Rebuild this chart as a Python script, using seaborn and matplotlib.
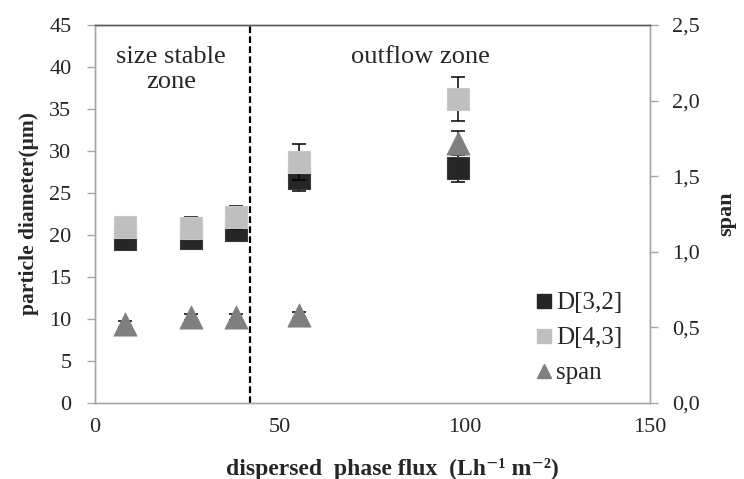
import matplotlib
matplotlib.use("Agg")
import matplotlib.pyplot as plt
from matplotlib.lines import Line2D
from matplotlib.ticker import FuncFormatter, MultipleLocator
import seaborn as sns
import pandas as pd

# dispersed phase flux (Lh-1 m-2)
flux = [8, 26, 38, 55, 98]
d32 = [19.5, 19.6, 20.6, 26.8, 28.0]
d32_err = [0.8, 0.5, 0.7, 1.6, 1.7]
d43 = [21.0, 20.8, 22.1, 28.7, 36.2]
d43_err = [1.2, 1.3, 1.4, 2.1, 2.6]
span = [0.52, 0.57, 0.57, 0.58, 1.72]
span_err = [0.02, 0.02, 0.02, 0.02, 0.08]
zone_limit = 42

df = pd.DataFrame({"flux": flux, "d32": d32, "d43": d43, "span": span})

sns.set_style("white")
plt.rcParams["font.family"] = ["Liberation Serif", "DejaVu Serif"]

c32 = "#262626"
c43 = "#bfbfbf"
cspan = "#7f7f7f"

fig = plt.figure(figsize=(7.44, 4.79), dpi=100)
ax = fig.add_axes([0.1277, 0.1587, 0.7460, 0.7891])
ax2 = ax.twinx()

# error bars first, markers on top
ax.errorbar(flux, d32, yerr=d32_err, fmt="none", ecolor="black",
            elinewidth=1.1, capsize=5, capthick=1.1, zorder=2)
sns.scatterplot(data=df, x="flux", y="d32", ax=ax, marker="s", s=250,
                color=c32, edgecolor="#3a3a3a", linewidth=0.8, zorder=3)
ax.errorbar(flux, d43, yerr=d43_err, fmt="none", ecolor="black",
            elinewidth=1.1, capsize=5, capthick=1.1, zorder=4)
sns.scatterplot(data=df, x="flux", y="d43", ax=ax, marker="s", s=250,
                color=c43, edgecolor="#c8c8c8", linewidth=0.8, zorder=5)

ax2.errorbar(flux, span, yerr=span_err, fmt="none", ecolor="black",
             elinewidth=1.1, capsize=5, capthick=1.1, zorder=2)
sns.scatterplot(data=df, x="flux", y="span", ax=ax2, marker="^", s=280,
                color=cspan, edgecolor=cspan, linewidth=0.5, zorder=3)

ax.axvline(zone_limit, color="black", linestyle=(0, (3, 1.5)), linewidth=1.6, zorder=1)

ax.set_xlim(0, 150)
ax.set_ylim(0, 45)
ax2.set_ylim(0, 2.5)
ax.xaxis.set_major_locator(MultipleLocator(50))
ax.yaxis.set_major_locator(MultipleLocator(5))
ax2.yaxis.set_major_locator(MultipleLocator(0.5))
ax2.yaxis.set_major_formatter(FuncFormatter(lambda v, p: f"{v:.1f}".replace(".", ",")))

for a in (ax, ax2):
    for side in ("left", "right", "bottom"):
        a.spines[side].set_color("#a6a6a6")
        a.spines[side].set_linewidth(1.0)
    a.spines["top"].set_color("#595959")
    a.spines["top"].set_linewidth(1.0)

ax.tick_params(axis="y", which="major", labelsize=16, length=6, width=1,
               color="#a6a6a6", direction="out", pad=11)
ax.tick_params(axis="x", which="major", labelsize=16, length=8, width=1,
               color="#a6a6a6", direction="inout", pad=7)
ax2.tick_params(axis="y", labelsize=16, length=6, width=1, color="#a6a6a6",
                direction="out", pad=10)

ax.set_xlabel("dispersed  phase flux  (Lh\u207b\u00b9 m\u207b\u00b2)",
              fontsize=17, fontweight="bold")
ax.xaxis.set_label_coords(0.535, -0.145)
ax.set_ylabel("particle diameter(\u03bcm)", fontsize=15.5, fontweight="bold", labelpad=7)
ax2.set_ylabel("span", fontsize=16, fontweight="bold", rotation=90, labelpad=12)

ax.text(20.5, 42.5, "size stable\nzone", ha="center", va="top", fontsize=19,
        linespacing=1.2)
ax.text(88, 42.5, "outflow zone", ha="center", va="top", fontsize=19)

handles = [
    Line2D([], [], linestyle="none", marker="s", markersize=9.5, color=c32),
    Line2D([], [], linestyle="none", marker="s", markersize=9.5, color=c43),
    Line2D([], [], linestyle="none", marker="^", markersize=10.5, color=cspan),
]
ax2.legend(handles, ["D[3,2]", "D[4,3]", "span"], loc="lower right",
           bbox_to_anchor=(0.99, -0.01), frameon=False, fontsize=18,
           handlelength=0.7, handletextpad=0.1, labelspacing=0.5)

fig.savefig("out.png", dpi=100)
